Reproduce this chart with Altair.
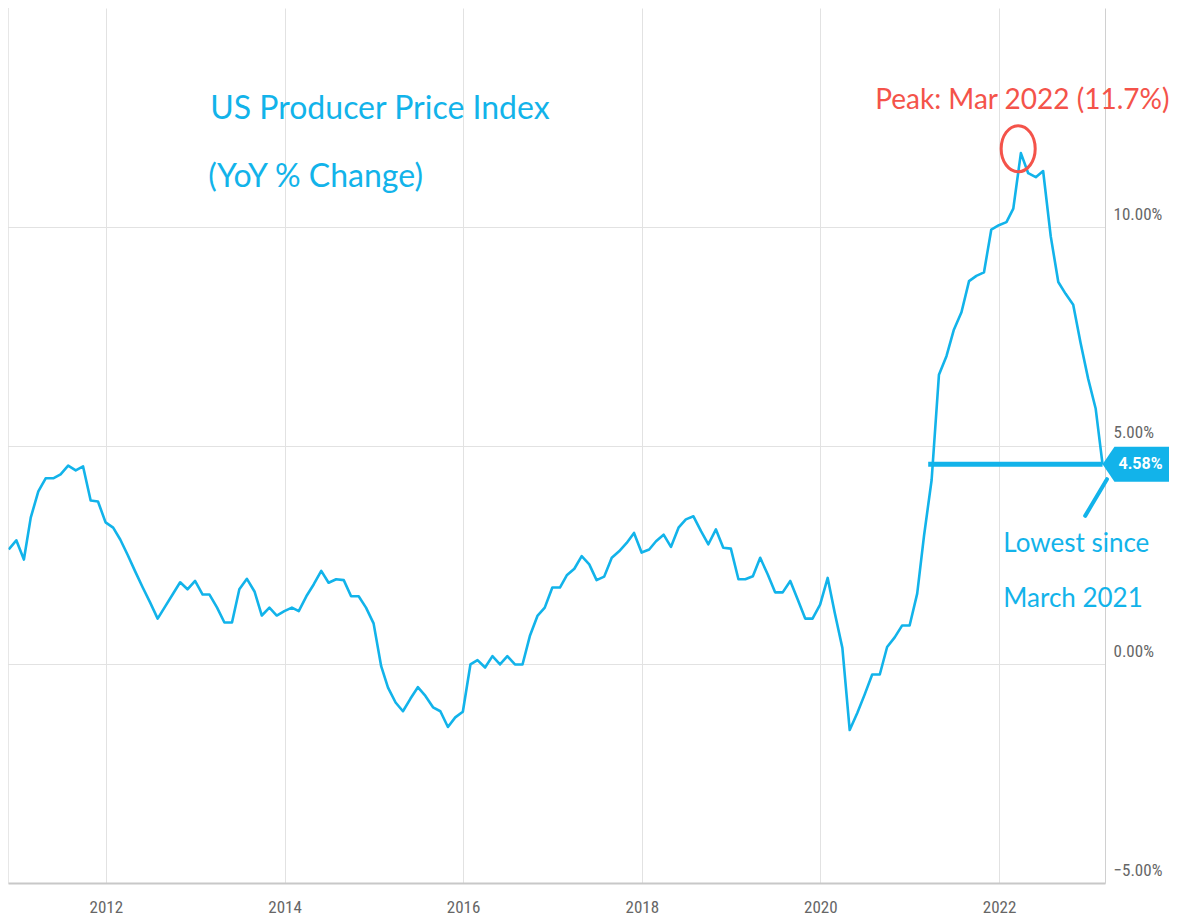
import altair as alt
import pandas as pd

# ---- data (US PPI final demand, YoY %, month-end points) ----
start_month = "2010-11-30"
ppi_yoy = [
    2.63, 2.84, 2.40, 3.36, 3.96, 4.26, 4.26, 4.35, 4.55, 4.44, 4.53, 3.75, 3.73,   # Nov10-Nov11
    3.25, 3.13, 2.86, 2.50, 2.13, 1.76, 1.42, 1.05, 1.33, 1.60, 1.88, 1.72,         # Dec11-Nov12
    1.91, 1.60, 1.60, 1.30, 0.96, 0.96, 1.72, 1.96, 1.67, 1.12, 1.30, 1.12,         # Dec12-Nov13
    1.22, 1.30, 1.22, 1.56, 1.83, 2.14, 1.87, 1.95, 1.93, 1.56, 1.56, 1.30,         # Dec13-Nov14
    0.94, -0.04, -0.53, -0.87, -1.07, -0.78, -0.52, -0.72, -0.98, -1.07, -1.43, -1.21,  # Dec14-Nov15
    -1.08, 0.00, 0.10, -0.07, 0.19, 0.00, 0.19, 0.00, 0.00, 0.65, 1.11, 1.30,       # Dec15-Nov16
    1.76, 1.76, 2.04, 2.19, 2.48, 2.29, 1.93, 2.01, 2.44, 2.59, 2.78, 3.01,         # Dec16-Nov17
    2.56, 2.63, 2.82, 2.97, 2.69, 3.13, 3.32, 3.39, 3.05, 2.75, 3.09, 2.67,         # Dec17-Nov18
    2.65, 1.95, 1.95, 2.02, 2.44, 2.06, 1.65, 1.65, 1.91, 1.49, 1.05, 1.05,         # Dec18-Nov19
    1.37, 1.98, 1.18, 0.38, -1.50, -1.11, -0.69, -0.23, -0.23, 0.40, 0.62, 0.89,    # Dec19-Nov20
    0.89, 1.62, 2.95, 4.22, 6.63, 7.06, 7.66, 8.06, 8.77, 8.89, 8.97, 9.95,         # Dec20-Nov21
    10.05, 10.12, 10.43, 11.70, 11.24, 11.15, 11.29, 9.80, 8.75, 8.48, 8.23, 7.36,  # Dec21-Nov22
    6.54, 5.85, 4.58,                                                               # Dec22-Feb23
]
x_ticks = [2012, 2014, 2016, 2018, 2020, 2022]
y_ticks = [-5, 0, 5, 10]

title_lines = ["US Producer Price Index", "(YoY % Change)"]
peak_label = "Peak: Mar 2022 (11.7%)"
peak_value = 11.7
low_lines = ["Lowest since", "March 2021"]
last_value = 4.58

BLUE = "#12b3ea"
RED = "#f4534a"
GRID = "#e2e2e2"
AXIS_TXT = "#666666"
AXIS_FONT = "Liberation Sans Narrow, Roboto Condensed, Roboto"

dates = pd.date_range(start=start_month, periods=len(ppi_yoy), freq=pd.offsets.MonthEnd())
df = pd.DataFrame({"date": dates.strftime("%Y-%m-%dT00:00:00"), "value": ppi_yoy})
last_date = df["date"].iloc[-1]

x_dom = [alt.DateTime(year=2010, month=11, date=27), alt.DateTime(year=2023, month=3, date=10)]
x_scale = alt.Scale(domain=x_dom)
y_scale = alt.Scale(domain=[-5, 15.02], nice=False, zero=False)

X = lambda f="date": alt.X(f"{f}:T", scale=x_scale, title=None)
Y = lambda f="value": alt.Y(f"{f}:Q", scale=y_scale, title=None)

line = alt.Chart(df).mark_line(color=BLUE, strokeWidth=2.6, strokeJoin="round").encode(
    x=alt.X("date:T", scale=x_scale, title=None,
            axis=alt.Axis(values=[alt.DateTime(year=y, month=1, date=1) for y in x_ticks],
                          format="%Y", grid=True, gridColor=GRID, ticks=False,
                          domain=True, domainColor="#c8c8c8", domainWidth=2,
                          labelPadding=16, labelFont=AXIS_FONT, labelFontSize=17,
                          labelColor=AXIS_TXT, labelFlush=False)),
    y=alt.Y("value:Q", scale=y_scale, title=None,
            axis=alt.Axis(orient="right", values=y_ticks,
                          labelExpr="format(datum.value, '.2f') + '%'",
                          grid=True, gridColor=GRID, ticks=False,
                          domain=True, domainColor="#d0d0d0",
                          labelPadding=8, labelAlign="left", labelBaseline="bottom",
                          labelOffset=-4, labelFont=AXIS_FONT, labelFontSize=17,
                          labelColor=AXIS_TXT)),
)

# left border of the plot frame
border_df = pd.DataFrame({"date": ["2010-11-27T00:00:00"], "lo": [-5], "hi": [15.02]})
border = alt.Chart(border_df).mark_rule(color="#d0d0d0", strokeWidth=1).encode(
    x=X(), y=Y("lo"), y2="hi")

# horizontal level line at the latest value
level_df = pd.DataFrame({"date": ["2021-03-17T00:00:00"], "date2": [last_date], "value": [last_value]})
level = alt.Chart(level_df).mark_rule(color=BLUE, strokeWidth=5).encode(
    x=X(), x2="date2", y=Y())

# value tag on the axis
tag_df = pd.DataFrame({"date": [last_date], "value": [last_value], "label": [f"{last_value:.2f}%"]})
tag = alt.Chart(tag_df).mark_point(
    shape="M0,0L0.34,-0.5L2,-0.5L2,0.5L0.34,0.5Z", size=4900, filled=True,
    fill=BLUE, opacity=1, strokeWidth=0).encode(x=X(), y=Y())
tag_txt = alt.Chart(tag_df).mark_text(
    dx=38, align="center", baseline="middle", font="Roboto", fontSize=16,
    fontWeight="bold", color="white").encode(x=X(), y=Y(), text="label:N")

# small pointer from the note to the tag
ptr_df = pd.DataFrame({"date": ["2022-12-19T00:00:00"], "date2": ["2023-03-18T00:00:00"],
                       "value": [3.40], "value2": [4.24]})
pointer = alt.Chart(ptr_df).mark_rule(color=BLUE, strokeWidth=4, strokeCap="round").encode(
    x=X(), x2="date2", y=Y(), y2="value2")

# red ellipse around the peak
circ_df = pd.DataFrame({"date": ["2022-03-20T00:00:00"], "value": [11.8]})
circle = alt.Chart(circ_df).mark_point(
    shape="M-0.74,0A0.74,1,0,1,0,0.74,0A0.74,1,0,1,0,-0.74,0Z", size=2116,
    filled=False, stroke=RED, strokeWidth=3, opacity=1).encode(x=X(), y=Y())

# texts
title_df = pd.DataFrame({"date": ["2013-03-03T00:00:00", "2013-02-23T00:00:00"],
                         "value": [12.71, 11.16], "label": title_lines})
titles = alt.Chart(title_df).mark_text(
    align="left", baseline="middle", font="Lato", fontSize=32, color=BLUE).encode(
    x=X(), y=Y(), text="label:N")

peak_df = pd.DataFrame({"date": ["2020-08-12T00:00:00"], "value": [12.9], "label": [peak_label]})
peak = alt.Chart(peak_df).mark_text(
    align="left", baseline="middle", font="Lato", fontSize=28, color=RED).encode(
    x=X(), y=Y(), text="label:N")

low_df = pd.DataFrame({"date": ["2022-01-18T00:00:00", "2022-01-18T00:00:00"],
                       "value": [2.76, 1.50], "label": low_lines})
low = alt.Chart(low_df).mark_text(
    align="left", baseline="middle", font="Lato", fontSize=26, color=BLUE).encode(
    x=X(), y=Y(), text="label:N")

chart = alt.layer(line, border, level, pointer, tag, tag_txt, circle, titles, peak, low).properties(
    width=1097, height=875,
    autosize=alt.AutoSizeParams(type="none"),
    padding={"left": 0, "top": 0, "right": 64, "bottom": 36},
    background="white",
).configure_view(stroke=None)

chart.save("out.html", embed_options={"renderer": "svg", "actions": False})
